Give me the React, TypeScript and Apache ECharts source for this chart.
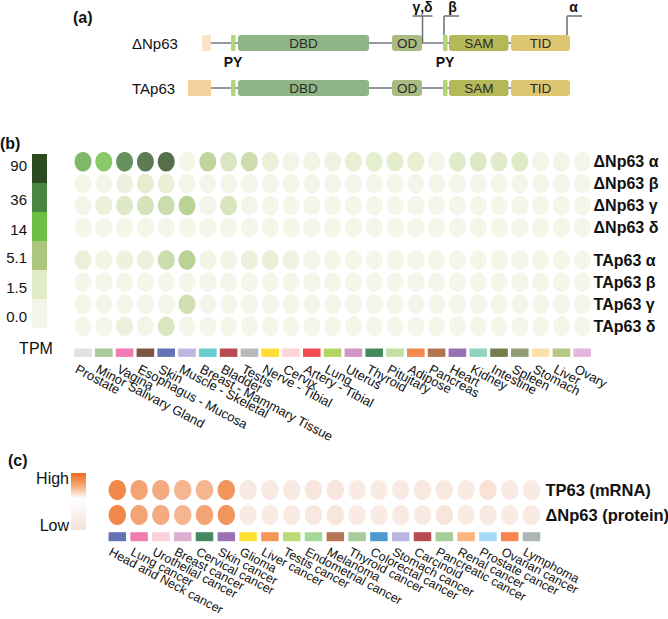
import React, { useEffect, useRef } from "react";
import * as echarts from "echarts";

const FONT = '"Liberation Sans", Arial, Helvetica, sans-serif';

// ---------- Panel (b) data ----------
const tissues = [
  "Prostate", "Minor Salivary Gland", "Vagina", "Esophagus - Mucosa", "Skin",
  "Muscle - Skeletal", "Breast - Mammary Tissue", "Bladder", "Testis", "Nerve - Tibial",
  "Cervix", "Artery - Tibial", "Lung", "Uterus", "Thyroid", "Pituitary", "Adipose",
  "Pancreas", "Heart", "Kidney", "Intestine", "Spleen", "Stomach", "Liver", "Ovary",
];
const tissueColors = [
  "#d9d9d9", "#93bd83", "#ee5aa0", "#5b2a14", "#3b51a3", "#aba8da", "#42c0c8", "#a71d26",
  "#a8a8a8", "#ffd500", "#fbc8cd", "#ed1f26", "#a3cb3b", "#c97ab8", "#156b36", "#b1d98e",
  "#f26a22", "#9d5424", "#7b4f9f", "#74c8ae", "#545b22", "#758653", "#fdd892", "#a7ba5e", "#dea4d3",
];
const isoformsDeltaN = ["ΔNp63 α", "ΔNp63 β", "ΔNp63 γ", "ΔNp63 δ"];
const isoformsTA = ["TAp63 α", "TAp63 β", "TAp63 γ", "TAp63 δ"];

// TPM per tissue
const dNp63Alpha = [23, 15, 52, 74, 95, 0.2, 4.8, 2.6, 3.7, 1.2, 0.3, 0.5, 0.8, 1.5, 1.6, 1.8, 1.5, 0.3, 2.0, 2.4, 2.1, 2.2, 0.3, 0.3, 0.3];
const dNp63Beta = [0.3, 0.3, 1.0, 1.8, 1.4, 0.3, 0.2, 0.3, 0.3, 0.3, 0.3, 0.3, 0.3, 0.2, 0.2, 0.2, 0.2, 0.2, 0.2, 0.2, 0.2, 0.2, 0.2, 0.2, 0.2];
const dNp63Gamma = [0.3, 1.0, 2.2, 3.0, 3.8, 5.5, 0.3, 2.8, 0.3, 0.2, 0.2, 0.2, 0.2, 0.2, 0.2, 0.2, 0.2, 0.2, 0.2, 0.2, 0.2, 0.2, 0.2, 0.2, 0.2];
const dNp63Delta = [0.2, 0.2, 0.2, 0.2, 0.2, 0.2, 0.2, 0.2, 0.2, 0.2, 0.2, 0.2, 0.2, 0.2, 0.2, 0.2, 0.2, 0.2, 0.2, 0.2, 0.2, 0.2, 0.2, 0.2, 0.2];
const tAp63Alpha = [1.2, 0.5, 0.9, 0.9, 3.8, 5.3, 0.4, 0.4, 1.1, 1.3, 0.7, 0.3, 0.2, 0.2, 0.2, 0.2, 0.2, 0.2, 0.2, 0.2, 0.2, 0.2, 0.2, 0.2, 0.2];
const tAp63Beta = [0.2, 0.2, 0.2, 0.2, 0.2, 0.2, 0.2, 0.2, 0.2, 0.2, 0.2, 0.2, 0.2, 0.2, 0.2, 0.2, 0.2, 0.2, 0.2, 0.2, 0.2, 0.2, 0.2, 0.2, 0.2];
const tAp63Gamma = [0.2, 0.2, 0.2, 0.2, 0.2, 3.5, 0.2, 0.2, 0.2, 0.2, 0.2, 0.2, 0.2, 0.2, 0.2, 0.2, 0.2, 0.2, 0.2, 0.2, 0.2, 0.2, 0.2, 0.2, 0.2];
const tAp63Delta = [0.2, 0.2, 1.0, 0.3, 2.6, 0.2, 0.2, 0.2, 0.2, 0.2, 0.2, 0.2, 0.2, 0.2, 0.2, 0.2, 0.2, 0.2, 0.2, 0.2, 0.2, 0.2, 0.2, 0.2, 0.2];

const tpmTickLabels = ["90", "36", "14", "5.1", "1.5", "0.0"];
const tpmStops = [0, 1.5, 5.1, 14, 36, 90];
const greenScale = ["#f2f5e8", "#e2ebc8", "#aac77d", "#6cbf45", "#4a8541", "#2c4a1f"];

// ---------- Panel (c) data ----------
const cancers = [
  "Head and Neck cancer", "Lung cancer", "Urothelial cancer", "Breast cancer", "Cervical cancer",
  "Skin cancer", "Glioma", "Liver cancer", "Testis cancer", "Endometrial cancer", "Melanoma",
  "Thyroid cancer", "Colorectal cancer", "Stomach cancer", "Carcinoid", "Pancreatic cancer",
  "Renal cancer", "Prostate cancer", "Ovarian cancer", "Lymphoma",
];
const cancerColors = [
  "#3f4fa0", "#ee5a9c", "#f9c6d1", "#d598c7", "#146a3a", "#7e4fa3", "#ffd900", "#f27c2c",
  "#a9d152", "#8fcf7e", "#a0532b", "#8fbf7f", "#1f7fc4", "#a9a5d9", "#a51c24", "#8fbf80",
  "#fda360", "#8fd0f2", "#f26522", "#9aa2a4",
];
const cancerRows = ["TP63 (mRNA)", "ΔNp63 (protein)"];
const tp63mRNA = [1.0, 0.74, 0.66, 0.56, 0.57, 0.88, 0.06, 0.06, 0.06, 0.09, 0.09, 0.05, 0.05, 0.05, 0.08, 0.08, 0.05, 0.14, 0.05, 0.05];
const dNp63Protein = [1.0, 0.74, 0.66, 0.56, 0.74, 0.88, 0.05, 0.05, 0.05, 0.08, 0.09, 0.05, 0.05, 0.05, 0.06, 0.09, 0.05, 0.06, 0.05, 0.05];
const colorbarTicksC = ["High", "Low"];

function tpmLevel(v: number) {
  for (let i = 0; i < tpmStops.length - 1; i++) {
    if (v <= tpmStops[i + 1]) return i + (v - tpmStops[i]) / (tpmStops[i + 1] - tpmStops[i]);
  }
  return tpmStops.length - 1;
}

function rowsToData(rows: number[][]) {
  const out: number[][] = [];
  rows.forEach((row, r) => row.forEach((v, c) => out.push([c, r, v, tpmLevel(v)])));
  return out;
}

const txt = (text: string, x: number, y: number, o: any = {}) => ({
  type: "text",
  x,
  y,
  silent: true,
  z: 20,
  style: {
    text,
    fill: o.fill || "#111",
    font: `${o.weight || "normal"} ${o.size || 14}px ${FONT}`,
    align: o.align || "left",
    verticalAlign: "middle",
    textAlign: o.align || "left",
    textVerticalAlign: "middle",
  },
});
const box = (x1: number, x2: number, cy: number, h: number, fill: string, r = 3) => ({
  type: "rect",
  silent: true,
  z: 10,
  shape: { x: x1, y: cy - h / 2, width: x2 - x1, height: h, r },
  style: { fill },
});
const seg = (x1: number, y1: number, x2: number, y2: number, z = 5) => ({
  type: "line",
  silent: true,
  z,
  shape: { x1, y1, x2, y2 },
  style: { stroke: "#6f787f", lineWidth: 1.6 },
});

export default function App() {
  const ref = useRef<HTMLDivElement>(null);
  useEffect(() => {
    if (!ref.current) return;
    const chart = echarts.init(ref.current, undefined, { renderer: "svg" });

    // ---- panel (a) diagram ----
    const domains = [
      { name: "", x1: 231, x2: 235.5, fill: "#b3d47a", r: 1 },
      { name: "DBD", x1: 238, x2: 369, fill: "#8fb587", r: 3 },
      { name: "OD", x1: 392, x2: 422, fill: "#aabb82", r: 3 },
      { name: "", x1: 443, x2: 447.5, fill: "#b3d47a", r: 1 },
      { name: "SAM", x1: 449, x2: 508.5, fill: "#b5b858", r: 3 },
      { name: "TID", x1: 511, x2: 570, fill: "#dcc672", r: 3 },
    ];
    const rowA = [
      { label: "ΔNp63", cy: 43, start: 202, startFill: "#f6e3c8" },
      { label: "TAp63", cy: 88, start: 188, startFill: "#f3d09e" },
    ];
    const gA: any[] = [txt("(a)", 73, 17, { weight: "bold", size: 16 })];
    rowA.forEach((row) => {
      gA.push(txt(row.label, 132, row.cy, { size: 15 }));
      gA.push(seg(row.start + 5, row.cy, 511, row.cy));
      gA.push(box(row.start, 211, row.cy, 16, row.startFill, 0));
      domains.forEach((d) => {
        gA.push(box(d.x1, d.x2, row.cy, 16, d.fill, d.r));
        if (d.name) gA.push(txt(d.name, (d.x1 + d.x2) / 2, row.cy, { size: 13.5, align: "center", fill: "#2a2a2a" }));
      });
    });
    gA.push(txt("PY", 233, 62, { weight: "bold", size: 14, align: "center" }));
    gA.push(txt("PY", 445, 62, { weight: "bold", size: 14, align: "center" }));
    gA.push(seg(422.5, 16, 422.5, 43, 15), seg(412.5, 16, 432.5, 16, 15));
    gA.push(txt("γ,δ", 422.5, 7, { weight: "bold", size: 14, align: "center" }));
    gA.push(seg(444, 16, 444, 35, 15), seg(444, 16, 459, 16, 15));
    gA.push(txt("β", 452.5, 7, { weight: "bold", size: 14, align: "center" }));
    gA.push(seg(567, 16, 567, 35, 15), seg(567, 16, 582, 16, 15));
    gA.push(txt("α", 573.5, 7, { weight: "bold", size: 14, align: "center" }));

    // ---- panel (b) colour key ----
    const gB: any[] = [txt("(b)", 0, 143, { weight: "bold", size: 16 })];
    const segH = 29;
    const labelY = [165, 199, 229, 257, 287, 316];
    for (let i = 0; i < 6; i++) {
      gB.push({
        type: "rect",
        silent: true,
        z: 10,
        shape: { x: 32, y: 154 + i * segH, width: 15, height: segH },
        style: { fill: greenScale[5 - i] },
      });
      gB.push(txt(tpmTickLabels[i], 27, labelY[i], { size: 15, align: "right" }));
    }
    gB.push(txt("TPM", 36, 348, { size: 16, align: "center" }));

    // ---- panel (c) colour key ----
    const gC: any[] = [
      txt("(c)", 8, 460, { weight: "bold", size: 16 }),
      {
        type: "rect",
        silent: true,
        z: 10,
        shape: { x: 71, y: 473, width: 15, height: 57 },
        style: {
          fill: new echarts.graphic.LinearGradient(0, 0, 0, 1, [
            { offset: 0, color: "#ee6a1c" },
            { offset: 0.22, color: "#f5a772" },
            { offset: 0.45, color: "#ffffff" },
            { offset: 0.55, color: "#fdfaf9" },
            { offset: 1, color: "#f2e3dc" },
          ]),
        },
      },
      txt(colorbarTicksC[0], 69, 478, { size: 16, align: "right" }),
      txt(colorbarTicksC[1], 69, 525, { size: 16, align: "right" }),
    ];

    const hiddenX = (gi: number, data: string[]) => ({ type: "category", gridIndex: gi, data, show: false });
    const hiddenY = (gi: number) => ({ type: "category", gridIndex: gi, data: [""], show: false });
    const labelX = (gi: number, data: string[], margin: number, size: number) => ({
      type: "category",
      gridIndex: gi,
      data,
      axisLine: { show: false },
      axisTick: { show: false },
      splitLine: { show: false },
      axisLabel: {
        interval: 0,
        rotate: -28,
        margin,
        fontSize: size,
        color: "#111",
        fontFamily: FONT,
        hideOverlap: false,
        overflow: "none",
      },
    });
    const rowY = (gi: number, data: string[], margin: number, size: number) => ({
      type: "category",
      gridIndex: gi,
      data,
      inverse: true,
      position: "right",
      axisLine: { show: false },
      axisTick: { show: false },
      splitLine: { show: false },
      axisLabel: { margin, fontSize: size, fontWeight: "bold", color: "#111", fontFamily: FONT, overflow: "none" },
    });
    const g = (left: number, top: number, width: number, height: number) => ({
      left,
      top,
      width,
      height,
      containLabel: false,
      outerBoundsMode: "none",
    });

    const option: any = {
      animation: false,
      textStyle: { fontFamily: FONT },
      grid: [
        g(72.6, 150.8, 520, 87.6),
        g(72.6, 249, 520, 88.4),
        g(72.6, 348.5, 520, 8.4),
        g(66, 358, 520, 1),
        g(106.4, 477.5, 436, 50),
        g(106.4, 532.2, 436, 9),
        g(99, 541, 436, 1),
      ],
      xAxis: [
        hiddenX(0, tissues),
        hiddenX(1, tissues),
        hiddenX(2, tissues),
        labelX(3, tissues, 9, 13),
        hiddenX(4, cancers),
        hiddenX(5, cancers),
        labelX(6, cancers, 9, 12.5),
      ],
      yAxis: [
        rowY(0, isoformsDeltaN, 1, 16),
        rowY(1, isoformsTA, 1, 16),
        hiddenY(2),
        hiddenY(3),
        rowY(4, cancerRows, 3, 16.5),
        hiddenY(5),
        hiddenY(6),
      ],
      visualMap: [
        {
          type: "continuous",
          show: false,
          seriesIndex: [0, 1],
          dimension: 3,
          min: 0,
          max: 5,
          inRange: { color: greenScale },
        },
        {
          type: "continuous",
          show: false,
          seriesIndex: [3],
          dimension: 2,
          min: 0,
          max: 1,
          inRange: { color: ["#f7ece7", "#ee6a1c"] },
        },
      ],
      series: [
        {
          type: "scatter",
          xAxisIndex: 0,
          yAxisIndex: 0,
          symbol: "circle",
          symbolSize: [17, 19.5],
          silent: true,
          data: rowsToData([dNp63Alpha, dNp63Beta, dNp63Gamma, dNp63Delta]),
        },
        {
          type: "scatter",
          xAxisIndex: 1,
          yAxisIndex: 1,
          symbol: "circle",
          symbolSize: [17, 19.5],
          silent: true,
          data: rowsToData([tAp63Alpha, tAp63Beta, tAp63Gamma, tAp63Delta]),
        },
        {
          type: "scatter",
          xAxisIndex: 2,
          yAxisIndex: 2,
          symbol: "rect",
          symbolSize: [17.6, 8.4],
          silent: true,
          data: tissues.map((t, i) => ({ value: [i, 0], itemStyle: { color: tissueColors[i] } })),
        },
        {
          type: "scatter",
          xAxisIndex: 4,
          yAxisIndex: 4,
          symbol: "circle",
          symbolSize: [17.5, 20],
          silent: true,
          data: [tp63mRNA, dNp63Protein].flatMap((row, r) => row.map((v, c) => [c, r, v])),
        },
        {
          type: "scatter",
          xAxisIndex: 5,
          yAxisIndex: 5,
          symbol: "rect",
          symbolSize: [17.5, 9],
          silent: true,
          data: cancers.map((t, i) => ({ value: [i, 0], itemStyle: { color: cancerColors[i] } })),
        },
      ],
      graphic: { elements: [...gA, ...gB, ...gC] },
    };
    chart.setOption(option);
    return () => chart.dispose();
  }, []);
  return (
    <div
      ref={ref}
      style={{ position: "absolute", left: 0, top: 0, width: 668, height: 619, background: "#fff" }}
    />
  );
}
